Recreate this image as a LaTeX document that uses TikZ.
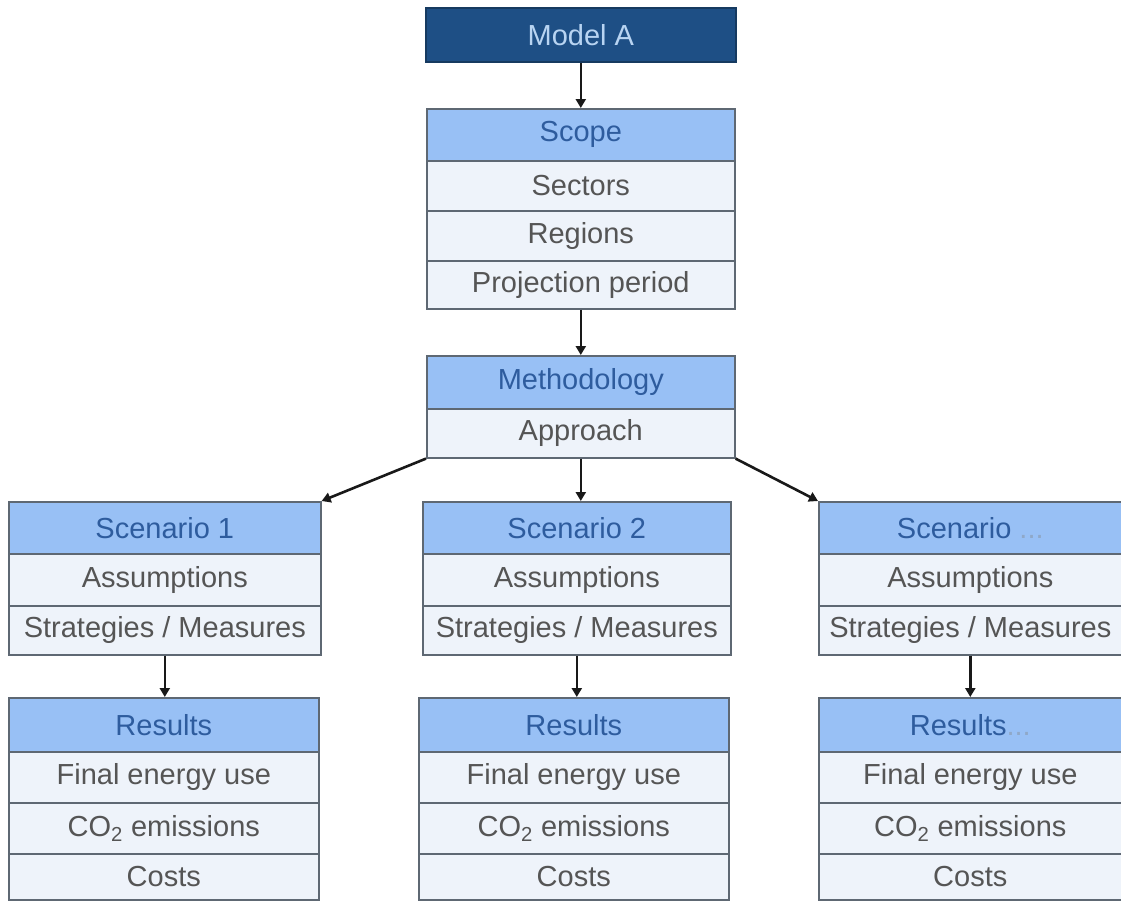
\documentclass[tikz,border=0pt]{standalone}
\usepackage{fontspec}
\setmainfont{Liberation Sans}
\usetikzlibrary{arrows.meta}
\definecolor{topfill}{HTML}{1E4F85}
\definecolor{topline}{HTML}{163A60}
\definecolor{toptext}{HTML}{B8D4F2}
\definecolor{hdrfill}{HTML}{98C0F5}
\definecolor{hdrtext}{HTML}{2E5C9E}
\definecolor{rowfill}{HTML}{EEF3FA}
\definecolor{rowtext}{HTML}{555555}
\definecolor{boxline}{HTML}{5E6873}
\definecolor{dotgrey}{HTML}{8FA8C8}
\tikzset{
  cell/.style={draw=boxline, line width=1.6pt, anchor=north west, inner sep=0pt,
    minimum width=#1, font=\fontsize{29}{29}\selectfont},
  hdr/.style={cell=#1, fill=hdrfill, text=hdrtext, minimum height=52pt},
  rowc/.style={cell=#1, fill=rowfill, text=rowtext, minimum height=50pt},
  topbox/.style={draw=topline, line width=1.6pt, fill=topfill, text=toptext, anchor=north west,
    inner sep=0pt, minimum width=310pt, minimum height=54pt, font=\fontsize{29}{29}\selectfont},
  arr/.style={line width=2.6pt, -{Triangle[width=10pt,length=9pt]}, black!90}
}
\begin{document}
\begin{tikzpicture}[x=1pt,y=-1pt]
\useasboundingbox (0,0) rectangle (1121,902);
\fill[white] (0,0) rectangle (1121,902);
% top
\node[topbox] (model) at (425,7) {Model A};
% scope block
\node[hdr=308pt] (scope) at (426,108) {Scope};
\node[rowc=308pt] (sectors) at (426,160) {Sectors};
\node[rowc=308pt] (regions) at (426,210) {Regions};
\node[rowc=308pt, minimum height=48pt] (period) at (426,260) {Projection period};
% methodology
\node[hdr=308pt, minimum height=53pt] (method) at (426,355) {Methodology};
\node[rowc=308pt, minimum height=49pt] (approach) at (426,408) {Approach};
% scenarios
\foreach \n/\x/\w/\lab in {1/8/312pt/Scenario 1, 2/422/308pt/Scenario 2, 3/818/303pt/Scenario {\color{dotgrey}...}}{
  \node[hdr=\w] (s\n) at (\x,501) {\lab};
  \node[rowc=\w, minimum height=52pt] (s\n a) at (\x,553) {Assumptions};
  \node[rowc=\w, minimum height=49pt] (s\n b) at (\x,605) {Strategies / Measures};
}
% results
\foreach \n/\x/\w/\lab in {1/8/310pt/Results, 2/418/310pt/Results, 3/818/303pt/Results{\color{dotgrey}...}}{
  \node[hdr=\w, minimum height=54pt] (r\n) at (\x,697) {\lab};
  \node[rowc=\w, minimum height=51pt] (r\n a) at (\x,751) {Final energy use};
  \node[rowc=\w, minimum height=51pt] (r\n b) at (\x,802) {CO\textsubscript{2} emissions};
  \node[rowc=\w, minimum height=46pt] (r\n c) at (\x,853) {Costs};
}
% connectors
\draw[arr] (model.south) -- (scope.north -| model.south);
\draw[arr] (period.south) -- (method.north);
\draw[arr] (approach.south) -- (s2.north -| approach.south);
\draw[arr] (approach.south west) -- (s1.north east);
\draw[arr] (approach.south east) -- (s3.north west);
\draw[arr] (s1b.south) -- (r1.north -| s1b.south);
\draw[arr] (s2b.south) -- (r2.north -| s2b.south);
\draw[arr] (s3b.south) -- (r3.north -| s3b.south);
\end{tikzpicture}
\end{document}
